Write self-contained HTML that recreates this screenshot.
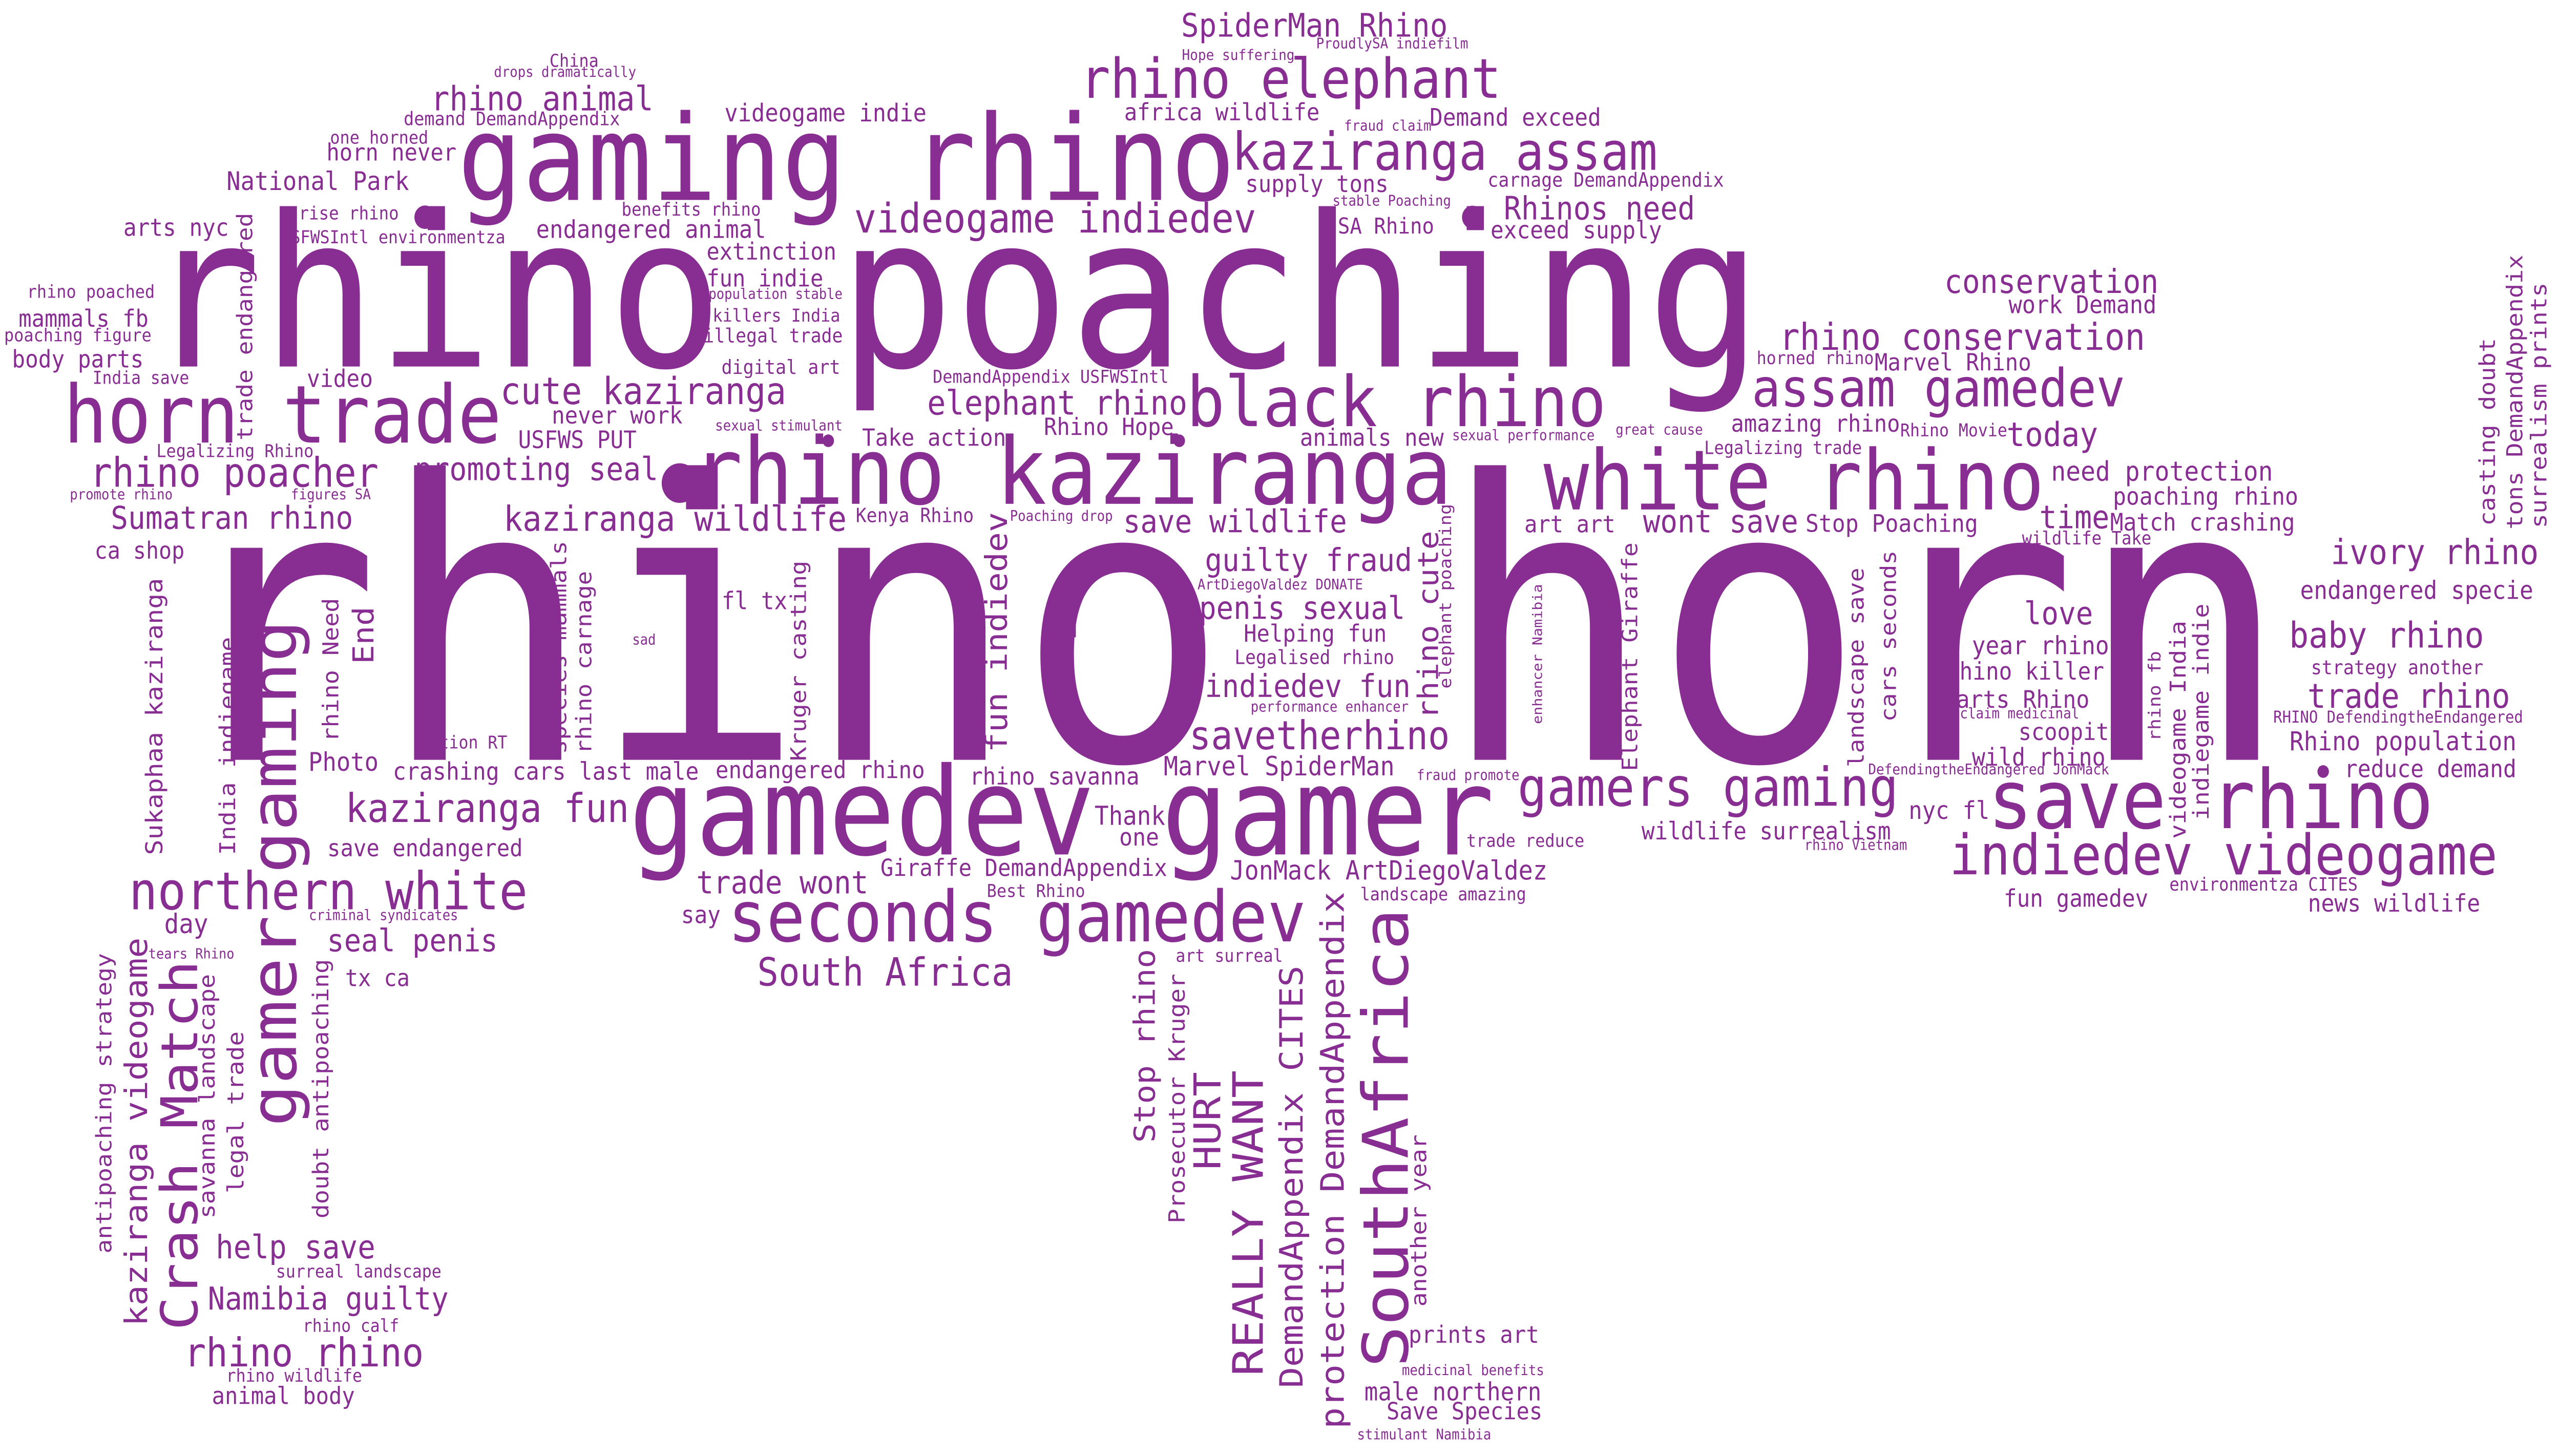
<!DOCTYPE html>
<html><head><meta charset="utf-8"><title>Rhino word cloud</title>
<style>
html,body{margin:0;padding:0;background:#fff;overflow:hidden;width:100vw;height:100vh;}
svg{display:block;width:100vw;height:100vh;}
text{font-family:"DejaVu Sans Mono","Liberation Mono",monospace;fill:#882d92;}
</style></head>
<body>
<svg id="cloud" xmlns="http://www.w3.org/2000/svg" viewBox="0 0 1563.6 807.7" preserveAspectRatio="none">
<rect x="0" y="0" width="1563.6" height="807.7" fill="#ffffff"/>
<circle cx="259.5" cy="120.5" r="6.5" fill="#882d92"/>
<circle cx="899" cy="120.5" r="6.4" fill="#882d92"/>
<circle cx="415" cy="268" r="11" fill="#882d92"/>
<circle cx="505.7" cy="244.5" r="3.5" fill="#882d92"/>
<circle cx="720" cy="244.5" r="3.5" fill="#882d92"/>
<circle cx="1418.4" cy="428" r="3.5" fill="#882d92"/>
</svg>
<script>
// horizontal words: text, left, right, baseline (layout units)
const hWords = [
["China",336,365,37.1],["drops dramatically",302,388,42.6],["rhino animal",264,398,61.2],
["demand DemandAppendix",247,378,69.4],["one horned",202,261,79.7],["horn never",200,278,89.1],
["National Park",139,249,105.4],["rise rhino",183,243,121.7],["benefits rhino",380,464,119.6],
["arts nyc",76,139,130.8],["USFWSIntl environmentza",172,308,135],["endangered animal",328,467,132],
["rhino poaching",95,1070,203.3],["rhino poached",17,94,165.2],["mammals fb",12,90,181.2],
["poaching figure",3,92,189.3],["body parts",8,87,203.8],["India save",57,115,212.9],
["video",188,227,214.7],["horn trade",41,304,245.5],["cute kaziranga",306.5,479,224.1],
["never work",337.5,416,235],["USFWS PUT",317,388,248.6],["Legalizing Rhino",96,191,253.6],
["rhino poacher",56,230,270],["promoting seal",254,401,266.3],["promote rhino",43,105,277],
["figures SA",178,226,277],["SpiderMan Rhino",722,883,20.3],["ProudlySA indiefilm",804,896,26.8],
["Hope suffering",722,790,33.2],["rhino elephant",661,915,54.3],["videogame indie",443,565,67.4],
["africa wildlife",687,805,66.7],["fraud claim",821,873.5,72.5],["gaming rhino",282.6,751,110.9],
["kaziranga assam",753.5,1010.5,94.2],["supply tons",761,847,106.5],["stable Poaching",814,885.5,114],
["videogame indiedev",522.6,765.8,129],["SA Rhino",817.4,875,129.5],["extinction",432,510,144],
["fun indie",432,502,159],["population stable",433,514,165.8],["killers India",435.6,512.5,178.4],
["illegal trade",430,514,189.9],["digital art",441,512.5,207.4],["DemandAppendix USFWSIntl",570,713,212.3],
["elephant rhino",567,724,230],["black rhino",726.4,978.7,236.4],["sexual stimulant",437,514,238.8],
["Take action",527,613.6,247.3],["Rhino Hope",638,716,241.3],["animals new",794.3,880.8,247.3],
["rhino kaziranga",425,884,279.5],["Demand exceed",873.5,976.8,69.7],["carnage DemandAppendix",908.8,1052,103.6],
["Rhinos need",919,1034,121.7],["exceed supply",910.7,1014,132.2],["conservation",1188,1317,162.5],
["work Demand",1227,1316,173.8],["rhino conservation",1087.4,1308.7,194],["horned rhino",1073,1143.6,202],
["Marvel Rhino",1145.2,1239.5,205.6],["assam gamedev",1071,1296,225.5],["amazing rhino",1057.5,1159.4,239.5],
["Rhino Movie",1160.7,1225,242],["today",1226,1280,247.5],["great cause",986.8,1039.3,241],
["sexual performance",887,973.2,244.2],["Legalizing trade",1041,1136.3,251.8],["white rhino",944.7,1245.8,282.6],
["need protection",1253,1387,266.6],["poaching rhino",1290.7,1402.5,280],["time",1246,1287,293],
["Match crashing",1289,1400.5,294.4],["wildlife Take",1235,1313,302],["Stop Poaching",1103,1207,295],
["ivory rhino",1424,1549,312.9],["endangered specie",1405,1546,332.2],["love",1236.7,1277,346.3],
["baby rhino",1398.6,1515.6,359.2],["year rhino",1204.6,1287,363],["rhino killer",1189,1284,377],
["strategy another",1411.5,1515.6,374],["parts Rhino",1187,1275,392.6],["trade rhino",1409.7,1531.6,392.6],
["claim medicinal",1197,1269,398.5],["RHINO DefendingtheEndangered",1388.4,1540,400.8],["scoopit",1233,1287,410.6],
["Rhino population",1398.6,1535.7,416.2],["wild rhino",1204.6,1284.8,424.7],["reduce demand",1432,1535.7,431.1],
["DefendingtheEndangered JonMack",1141,1287.3,429.5],["nyc fl",1166,1214,454.3],["save rhino",1216,1483.5,459.4],
["indiedev videogame",1191.7,1523.3,485.1],["environmentza CITES",1325,1439,494],["fun gamedev",1224,1311,503],
["news wildlife",1409.7,1513.6,505.7],["Sumatran rhino",68.5,214.7,293.3],["kaziranga wildlife",308.4,516,294.5],
["ca shop",58.4,112,310],["Photo",189,230.4,427.6],["action RT",256.8,309.2,415.2],["sad",386.4,400,357.5],
["crashing cars last male",240.5,426,432.6],["kaziranga fun",212,383,456],["save endangered",200.5,318.5,475],
["northern white",80.2,320.7,504.4],["day",101,126.4,517.7],["criminal syndicates",189,279.3,510.4],
["tears Rhino",91,142.7,531.7],["seal penis",200.5,303,527.7],["tx ca",211.4,249.5,547],
["help save",132.6,228.3,698],["surreal landscape",169,269,708.7],["Namibia guilty",127.7,273,726.4],
["rhino calf",185.3,243.2,738.8],["rhino rhino",113.6,257.6,758],["rhino wildlife",138.6,220.6,766.5],
["animal body",130,216,778.8],["say",416.5,439.3,512.1],["Kenya Rhino",523,594,289.7],
["Poaching drop",617,679,289],["save wildlife",686.6,821.5,295.3],["fl tx",441.3,480,338],
["u",650.3,657.4,353.6],["guilty fraud",736.5,861.3,316.8],["ArtDiegoValdez DONATE",731.5,831.7,327],
["penis sexual",733,857,343.4],["Helping fun",760,846,356],["Legalised rhino",754.3,850.7,368.3],
["indiedev fun",736.5,860.3,386.6],["performance enhancer",764,859.6,394.7],["savetherhino",727.2,884,415.7],
["Marvel SpiderMan",711.2,850.7,430.2],["endangered rhino",437.5,564,431.7],["rhino savanna",592.7,695,435.3],
["rhino horn",113.6,1387,421.5],["gamedev gamer",387.3,909,474],["Thank",669,710.7,457.6],
["one",684,707,469],["Giraffe DemandAppendix",538.2,712,486],["JonMack ArtDiegoValdez",751.7,944,488],
["trade wont",426,529.3,495.6],["Best Rhino",603,662,497.6],["seconds gamedev",446.4,795.4,522.2],
["South Africa",463.4,617.3,546.8],["art surreal",718.3,782.7,533.6],["wont save",1004,1097,295.3],
["art art",931.3,985.6,295.3],["fraud promote",865.4,927.3,432.7],["gamers gaming",928,1157.6,447],
["wildlife surrealism",1002.9,1153.8,465.7],["rhino Vietnam",1102,1164,471.5],["trade reduce",895.8,966.8,469.8],
["landscape amazing",831,931.3,499.4],["prints art",860.7,939,744.9],["medicinal benefits",856.3,942.4,762.8],
["male northern",833.7,940.4,776.9],["Save Species",847.2,941,787.4],["stimulant Namibia",829,910,798.5]
];
// vertical words (read bottom-to-top): text, baseline x, bottom y, top y
const vWords = [
["trade endangered",154,243.7,118.7],["casting doubt",1523.3,291,188.2],["tons DemandAppendix",1540,293,142],
["surrealism prints",1554.7,292.3,157.4],["rhino fb",1319,410.6,361.7],["videogame India",1334.4,464.6,345],
["indiegame indie",1348.5,454.3,335.5],["Sukaphaa kaziranga",99.2,473.6,321.4],["India indiegame",143.5,473.6,354],
["gamer gaming",180.7,623,345.8],["rhino Need",206.5,410.9,332.4],["End",228,367.5,337.4],
["species mammals",345.7,417.6,300.7],["rhino carnage",361,417.6,317.4],["antipoaching strategy",68,694.7,529.4],
["kaziranga videogame",89.7,734.7,521],["Crash Match",120.4,736.4,534.4],["savanna landscape",131,675.3,541],
["legal trade",148.6,661.3,572.8],["doubt antipoaching",200.5,675.3,532.7],["Kruger casting",492,421.5,311.7],
["fun indiedev",614.8,416.5,285],["Stop rhino",705,633,527.3],["Prosecutor Kruger",723.3,678,540.8],
["HURT",745,647.8,595.8],["REALLY WANT",771,762,595],["DemandAppendix CITES",795.3,769,536.7],
["protection DemandAppendix",820.4,791.6,495.6],["SouthAfrica",859.5,756.7,505.8],["another year",870.8,724.2,630],
["rhino cute",878,398,295.3],["elephant poaching",886,381.5,280],["enhancer Namibia",941.5,401.3,324.4],
["Elephant Giraffe",999.6,427.1,301.6],["landscape save",1137.8,425,315.6],["cars seconds",1157.5,399.7,306]
];
const NS = "http://www.w3.org/2000/svg";
const svg = document.getElementById("cloud");
function slug(t){return t.toLowerCase().replace(/[^a-z0-9]+/g,'-').replace(/^-|-$/g,'');}
function sizeFor(text, w){const n=text.length;const s=w/(0.602*n-0.1);return {s:s,len:0.602*n*s};}
hWords.forEach(function(d){
  const m=sizeFor(d[0], d[2]-d[1]);
  const el=document.createElementNS(NS,"text");
  el.setAttribute("x",(d[1]-0.05*m.s).toFixed(2));
  el.setAttribute("y",d[3]);
  el.setAttribute("font-size",m.s.toFixed(2));
  el.setAttribute("textLength",m.len.toFixed(2));
  el.setAttribute("lengthAdjust","spacingAndGlyphs");
  
  
  el.textContent=d[0];
  svg.appendChild(el);
});
vWords.forEach(function(d){
  const m=sizeFor(d[0], d[2]-d[3]);
  const el=document.createElementNS(NS,"text");
  const x=d[1], y=d[2]+0.05*m.s;
  el.setAttribute("x",x);
  el.setAttribute("y",y.toFixed(2));
  el.setAttribute("font-size",m.s.toFixed(2));
  el.setAttribute("textLength",m.len.toFixed(2));
  el.setAttribute("lengthAdjust","spacingAndGlyphs");
  el.setAttribute("transform","rotate(-90 "+x+" "+y.toFixed(2)+")");
  
  
  el.textContent=d[0];
  svg.appendChild(el);
});
</script>
</body></html>
